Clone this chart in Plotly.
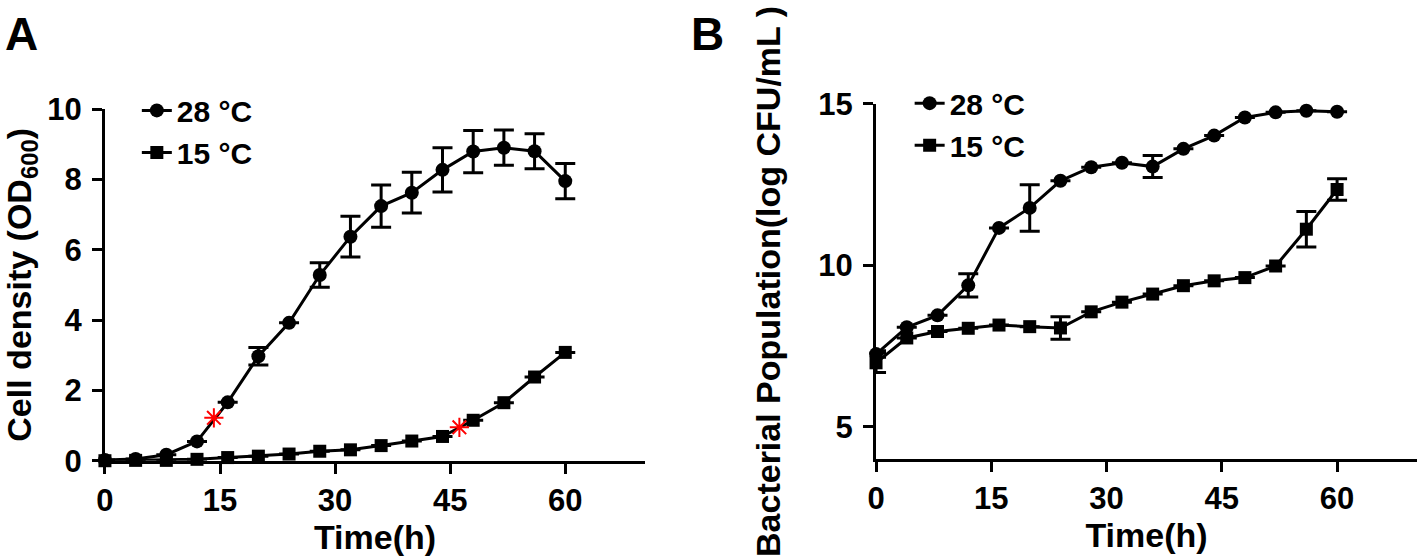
import plotly.graph_objects as go

# ---------------- data ----------------
time_h = [0, 4, 8, 12, 16, 20, 24, 28, 32, 36, 40, 44, 48, 52, 56, 60]

od_28 = [0.02, 0.05, 0.17, 0.55, 1.66, 2.97, 3.92, 5.28, 6.37, 7.24, 7.62, 8.27, 8.79, 8.9, 8.8, 7.95]
od_28_err = [0, 0, 0, 0, 0, 0.25, 0, 0.35, 0.58, 0.6, 0.58, 0.63, 0.6, 0.5, 0.5, 0.5]
od_15 = [0.0, 0.01, 0.01, 0.04, 0.09, 0.13, 0.19, 0.27, 0.31, 0.43, 0.56, 0.69, 1.15, 1.65, 2.38, 3.08]
od_15_err = [0] * 16

star_t = [14.2, 46.2]
star_od = [1.22, 0.95]

cfu_28 = [7.25, 8.08, 8.45, 9.38, 11.16, 11.78, 12.62, 13.04, 13.18, 13.06, 13.61, 14.02, 14.58, 14.74, 14.79, 14.76]
cfu_28_err = [0.1, 0, 0, 0.36, 0, 0.72, 0, 0, 0, 0.34, 0, 0, 0, 0, 0, 0]
cfu_15 = [6.98, 7.75, 7.95, 8.05, 8.15, 8.1, 8.06, 8.56, 8.86, 9.11, 9.37, 9.52, 9.62, 9.98, 11.12, 12.35]
cfu_15_err = [0.3, 0, 0, 0, 0, 0, 0.35, 0, 0, 0, 0, 0, 0, 0, 0.55, 0.33]

x_ticks = [0, 15, 30, 45, 60]
yA_ticks = [0, 2, 4, 6, 8, 10]
yB_ticks = [5, 10, 15]
labels = ["28 °C", "15 °C"]

FONT = "Liberation Sans, Arial, sans-serif"

fig = go.Figure()

def add_series(x, y, err, name, symbol, size, xaxis, yaxis, legend):
    fig.add_trace(go.Scatter(
        x=x, y=y, name=name, mode="lines+markers",
        line=dict(color="black", width=3),
        marker=dict(symbol=symbol, size=size, color="black"),
        error_y=dict(type="data", array=err, visible=True, color="black",
                     thickness=3, width=10),
        cliponaxis=False, xaxis=xaxis, yaxis=yaxis, legend=legend,
    ))

add_series(time_h, od_28, od_28_err, labels[0], "circle", 14, "x", "y", "legend")
add_series(time_h, od_15, od_15_err, labels[1], "square", 13, "x", "y", "legend")
fig.add_trace(go.Scatter(
    x=star_t, y=star_od, mode="markers", showlegend=False,
    marker=dict(symbol="asterisk-open", size=16, color="red",
                line=dict(color="red", width=2)),
    cliponaxis=False, xaxis="x", yaxis="y"))

add_series(time_h, cfu_28, cfu_28_err, labels[0], "circle", 14, "x2", "y2", "legend2")
add_series(time_h, cfu_15, cfu_15_err, labels[1], "square", 13, "x2", "y2", "legend2")

tickfont = dict(family=FONT, size=31, color="black", weight="bold")
titlefont = dict(family=FONT, size=34, color="black", weight="bold")
legfont = dict(family=FONT, size=30, color="black", weight="bold")

xcommon = dict(range=[0, 70.4], tickvals=x_ticks, showline=True, linecolor="black",
               linewidth=3, ticks="outside", ticklen=10, tickwidth=3, tickcolor="black",
               showgrid=False, zeroline=False, tickfont=tickfont, automargin=False,
               title=dict(text="Time(h)", font=titlefont, standoff=6))
ycommon = dict(showline=True, linecolor="black", linewidth=3, ticks="outside",
               ticklen=10, tickwidth=3, tickcolor="black", showgrid=False,
               zeroline=False, tickfont=tickfont, automargin=False,
               ticklabelstandoff=4)

fig.update_layout(
    template="none",
    width=1418, height=559,
    margin=dict(l=0, r=0, t=0, b=0),
    paper_bgcolor="white", plot_bgcolor="white",
    xaxis=dict(domain=[0.074, 0.4549], anchor="y", **xcommon),
    yaxis=dict(domain=[0.1758, 0.805], anchor="x", range=[0, 10], tickvals=yA_ticks,
               title=dict(text="Cell density (OD<sub>600</sub>)", font=titlefont, standoff=10),
               **ycommon),
    xaxis2=dict(domain=[0.6178, 0.9993], anchor="y2", **xcommon),
    yaxis2=dict(domain=[0.1789, 0.814], anchor="x2", range=[4, 15], tickvals=yB_ticks,
                title=dict(text="Bacterial Population(log CFU/mL )", font=titlefont, standoff=28),
                **ycommon),
    legend=dict(x=0.0965, y=0.849, xanchor="left", yanchor="top", font=legfont,
                bgcolor="rgba(0,0,0,0)", tracegroupgap=0, itemwidth=30),
    legend2=dict(x=0.6415, y=0.862, xanchor="left", yanchor="top", font=legfont,
                 bgcolor="rgba(0,0,0,0)", tracegroupgap=0, itemwidth=30),
    annotations=[
        dict(text="A", x=21 / 1418, y=1 - 34 / 559, xref="paper", yref="paper",
             xanchor="center", yanchor="middle", showarrow=False,
             font=dict(family=FONT, size=46, color="black", weight="bold")),
        dict(text="B", x=707 / 1418, y=1 - 34 / 559, xref="paper", yref="paper",
             xanchor="center", yanchor="middle", showarrow=False,
             font=dict(family=FONT, size=46, color="black", weight="bold")),
    ],
)

fig.write_html("out.html",
               config={"displayModeBar": False},
               post_script="document.body.style.margin='0';document.body.style.overflow='hidden';")
